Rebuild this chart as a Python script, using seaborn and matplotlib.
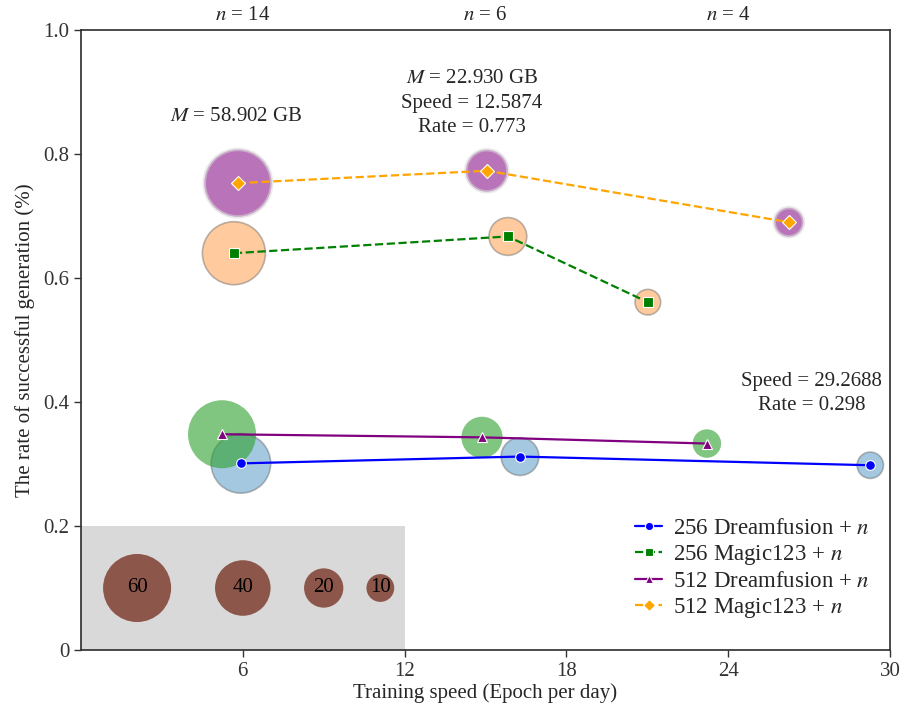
import matplotlib
matplotlib.use("Agg")
import matplotlib.pyplot as plt
import seaborn as sns
import pandas as pd
from matplotlib.patches import Rectangle

# ---------------- data ----------------
series_names = ["256 Dreamfusion + $n$", "256 Magic123 + $n$",
                "512 Dreamfusion + $n$", "512 Magic123 + $n$"]

df256_speed = [5.93, 16.28, 29.2688]
df256_rate = [0.301, 0.312, 0.298]
df256_mem = [46.0, 18.5, 9.0]

mg256_speed = [5.67, 15.83, 21.02]
mg256_rate = [0.640, 0.667, 0.561]
mg256_mem = [51.5, 18.5, 8.5]

df512_speed = [5.23, 14.87, 23.21]
df512_rate = [0.348, 0.343, 0.333]
df512_mem = [60.0, 22.0, 10.5]

mg512_speed = [5.82, 15.05, 26.25]
mg512_rate = [0.753, 0.773, 0.690]
mg512_mem = [58.902, 22.930, 11.0]

size_ref_values = [60, 40, 20, 10]
size_ref_x = [2.08, 6.0, 9.0, 11.1]
size_ref_y = [0.10, 0.10, 0.10, 0.10]

n_labels = ["$n$ = 14", "$n$ = 6", "$n$ = 4"]
n_label_x = [6, 15, 24]

x_ticks = [6, 12, 18, 24, 30]
y_ticks = [0, 0.2, 0.4, 0.6, 0.8, 1.0]
y_tick_labels = ["0", "0.2", "0.4", "0.6", "0.8", "1.0"]

# ---------------- style ----------------
sns.set_theme(style="ticks")
plt.rcParams["font.family"] = ["Liberation Serif", "DejaVu Serif"]
plt.rcParams["mathtext.fontset"] = "stix"
plt.rcParams["axes.edgecolor"] = "#333333"
plt.rcParams["xtick.color"] = "#333333"
plt.rcParams["ytick.color"] = "#333333"

FS = 15

fig = plt.figure(figsize=(9.01, 7.12), dpi=100)
ax = fig.add_axes([81 / 901, 62 / 712, (890 - 81) / 901, (650 - 30) / 712])

SCALE = 40.0  # marker area (pt^2) per GB
size_norm = (0, 100)
size_range = (0, 100 * SCALE)

# grey box for size reference
ax.add_patch(Rectangle((0, 0), 12, 0.2, facecolor="#d9d9d9", edgecolor="none", zorder=0))

def bubbles(xs, ys, ms, color, alpha, edge, lw):
    d = pd.DataFrame({"x": xs, "y": ys, "m": ms})
    sns.scatterplot(data=d, x="x", y="y", size="m", sizes=size_range, size_norm=size_norm,
                    color=color, alpha=alpha, edgecolor=edge, linewidth=lw,
                    legend=False, ax=ax, zorder=1)

bubbles(df256_speed, df256_rate, df256_mem, "#1f77b4", 0.4, "#555555", 1.2)
bubbles(mg256_speed, mg256_rate, mg256_mem, "#ff7f0e", 0.4, "#555555", 1.2)
bubbles(df512_speed, df512_rate, df512_mem, "#2ca02c", 0.6, "none", 0)
bubbles(mg512_speed, mg512_rate, mg512_mem, "#800080", 0.55, "#d8d8d8", 2.5)

# size reference bubbles
ref = pd.DataFrame({"x": size_ref_x, "y": size_ref_y, "m": size_ref_values})
sns.scatterplot(data=ref, x="x", y="y", size="m", sizes=size_range, size_norm=size_norm,
                color="#8c564b", edgecolor="none", legend=False, ax=ax, zorder=2)
for xv, yv, v in zip(size_ref_x, size_ref_y, size_ref_values):
    ax.text(xv, yv, str(v), ha="center", va="center", fontsize=FS, color="black", zorder=3)

# lines
def line(xs, ys, color, ls, marker, ms, label):
    d = pd.DataFrame({"x": xs, "y": ys})
    sns.lineplot(data=d, x="x", y="y", sort=False, color=color, linestyle=ls, linewidth=1.6,
                 marker=marker, markersize=ms, markeredgecolor="white", markeredgewidth=0.8,
                 label=label, ax=ax, zorder=4)

line(df256_speed, df256_rate, "blue", "-", "o", 7, series_names[0])
line(mg256_speed, mg256_rate, "green", "--", "s", 7, series_names[1])
line(df512_speed, df512_rate, "purple", "-", "^", 7, series_names[2])
line(mg512_speed, mg512_rate, "orange", "--", "D", 7, series_names[3])

# annotations
ax.text(5.74, 0.86, "$M$ = 58.902 GB", ha="center", va="center", fontsize=FS)
ax.text(14.5, 0.882, "$M$ = 22.930 GB\nSpeed = 12.5874\nRate = 0.773",
        ha="center", va="center", fontsize=FS, linespacing=1.4)
ax.text(27.1, 0.414, "Speed = 29.2688\nRate = 0.298",
        ha="center", va="center", fontsize=FS, linespacing=1.4)

for xv, lab in zip(n_label_x, n_labels):
    ax.text(xv, 1.008, lab, ha="center", va="bottom", fontsize=FS, clip_on=False)

ax.set_xlim(0, 30)
ax.set_ylim(0, 1.0)
ax.set_xticks(x_ticks)
ax.set_yticks(y_ticks)
ax.set_yticklabels(y_tick_labels)
ax.tick_params(labelsize=FS, length=5, width=1)
ax.set_xlabel("Training speed (Epoch per day)", fontsize=FS, labelpad=2)
ax.set_ylabel("The rate of successful generation (%)", fontsize=FS, labelpad=6)

ax.legend(loc="lower right", bbox_to_anchor=(1.0, 0.015), frameon=False, fontsize=16.5,
          handlelength=1.2, handletextpad=0.45, labelspacing=0.18, markerscale=0.85)

fig.savefig("out.png", dpi=100)
